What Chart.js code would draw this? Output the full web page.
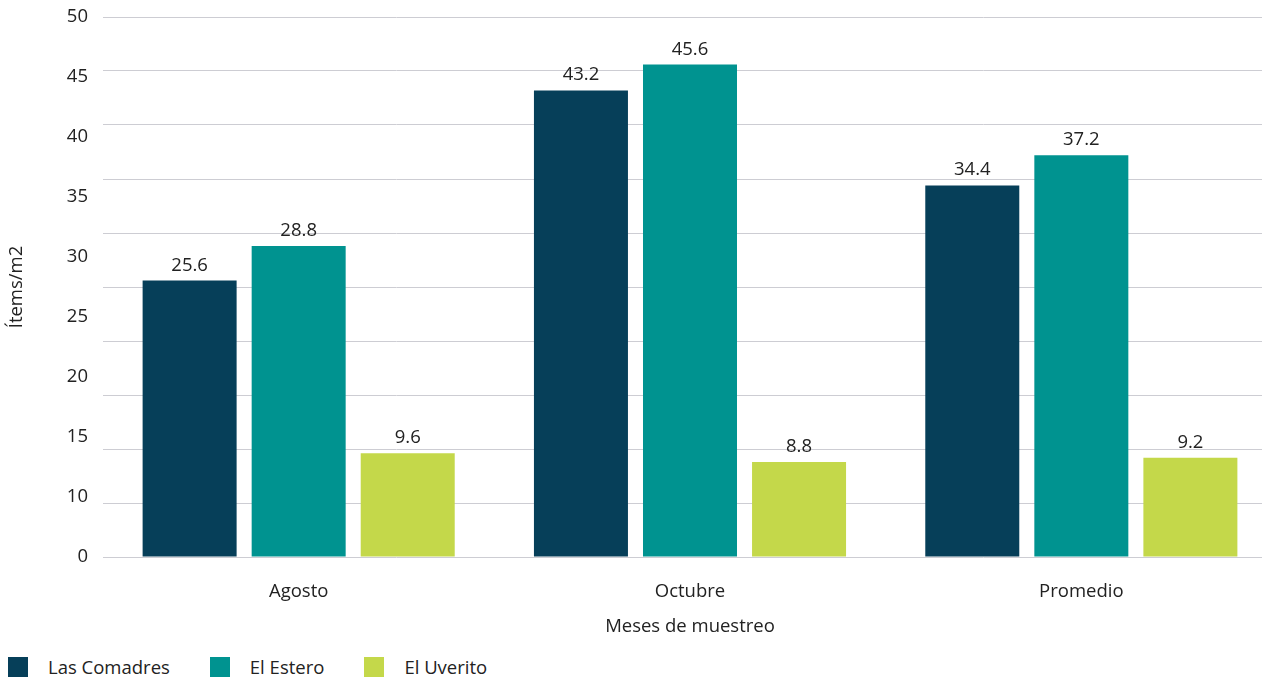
<!DOCTYPE html>
<html>
<head>
<meta charset="utf-8">
<script src="https://cdn.jsdelivr.net/npm/chart.js@4/dist/chart.umd.min.js"></script>
<style>
  html, body { margin: 0; padding: 0; background: #fff; overflow: hidden; }
  #wrap { position: relative; width: 1262px; height: 677px; overflow: hidden; }
  #legend { position: absolute; left: 8px; top: 657px; display: flex; font-family: "Open Sans", sans-serif; font-size: 18.5px; color: #222; }
  .item { display: flex; align-items: center; margin-right: 40px; line-height: 20px; }
  .box { width: 20px; height: 20px; margin-right: 20px; }
</style>
</head>
<body>
<div id="wrap">
  <canvas id="chart" width="1290" height="647"></canvas>
  <div id="legend"></div>
</div>
<script>
const months = ["Agosto", "Octubre", "Promedio"];
const seriesNames = ["Las Comadres", "El Estero", "El Uverito"];
const seriesColors = ["#063f59", "#009390", "#c4d84a"];
const lasComadres = [25.6, 43.2, 34.4];
const elEstero = [28.8, 45.6, 37.2];
const elUverito = [9.6, 8.8, 9.2];
// tick labels as printed in the original (no "5")
const yTickLabels = ["50", "45", "40", "35", "30", "25", "20", "15", "10", "0"];

const textColor = "#222";
const fontFamily = "'Open Sans', sans-serif";
const fontSize = 18.5;
Chart.defaults.font.family = fontFamily;
Chart.defaults.font.size = fontSize;
Chart.defaults.color = textColor;

// value labels on top of each bar
const barValues = {
    id: "barValues",
    afterDatasetsDraw(chart) {
        const ctx = chart.ctx;
        ctx.save();
        ctx.font = fontSize + "px " + fontFamily;
        ctx.fillStyle = textColor;
        ctx.textAlign = "center";
        ctx.textBaseline = "alphabetic";
        chart.data.datasets.forEach((ds, i) => {
            chart.getDatasetMeta(i).data.forEach((bar, j) => {
                ctx.fillText(ds.data[j].toFixed(1), bar.x, bar.y - 10);
            });
        });
        ctx.restore();
    }
};

const noOverflow = s => { s.paddingTop = 0; s.paddingBottom = 0; };
const allSeries = [lasComadres, elEstero, elUverito];

new Chart(document.getElementById("chart").getContext("2d"), {
    type: "bar",
    data: {
        labels: months,
        datasets: allSeries.map((vals, i) => ({
            label: seriesNames[i],
            data: vals,
            backgroundColor: seriesColors[i],
            yAxisID: "y",
            categoryPercentage: 0.836,
            barPercentage: 0.862
        }))
    },
    options: {
        responsive: false,
        animation: false,
        devicePixelRatio: 1,
        layout: { padding: { top: 17, right: 13, left: 0, bottom: 0 } },
        plugins: { legend: { display: false }, tooltip: { enabled: false } },
        scales: {
            x: {
                grid: { display: false, drawTicks: false },
                border: { display: false },
                ticks: { padding: 24 },
                title: { display: true, text: "Meses de muestreo", padding: { top: 0, bottom: 9 } },
                afterFit: s => { s.height = 90; }
            },
            y: {
                min: 0,
                max: 50,
                ticks: { display: false, stepSize: 5 },
                grid: { color: "#cdcdd3", drawTicks: false },
                border: { display: false },
                afterFit: s => { s.width = 0; noOverflow(s); }
            },
            yLab: {
                type: "category",
                axis: "y",
                position: "left",
                labels: yTickLabels,
                offset: false,
                grid: { display: false, drawTicks: false },
                border: { display: false },
                ticks: { padding: 15 },
                title: { display: true, text: "Ítems/m2", padding: { top: 6, bottom: 0 } },
                afterFit: s => { s.width = 103; noOverflow(s); }
            }
        }
    },
    plugins: [barValues]
});

// legend
const legend = document.getElementById("legend");
seriesNames.forEach((name, i) => {
    const item = document.createElement("div");
    item.className = "item";
    item.innerHTML = `<span class="box" style="background:${seriesColors[i]}"></span><span>${name}</span>`;
    legend.appendChild(item);
});
</script>
</body>
</html>
